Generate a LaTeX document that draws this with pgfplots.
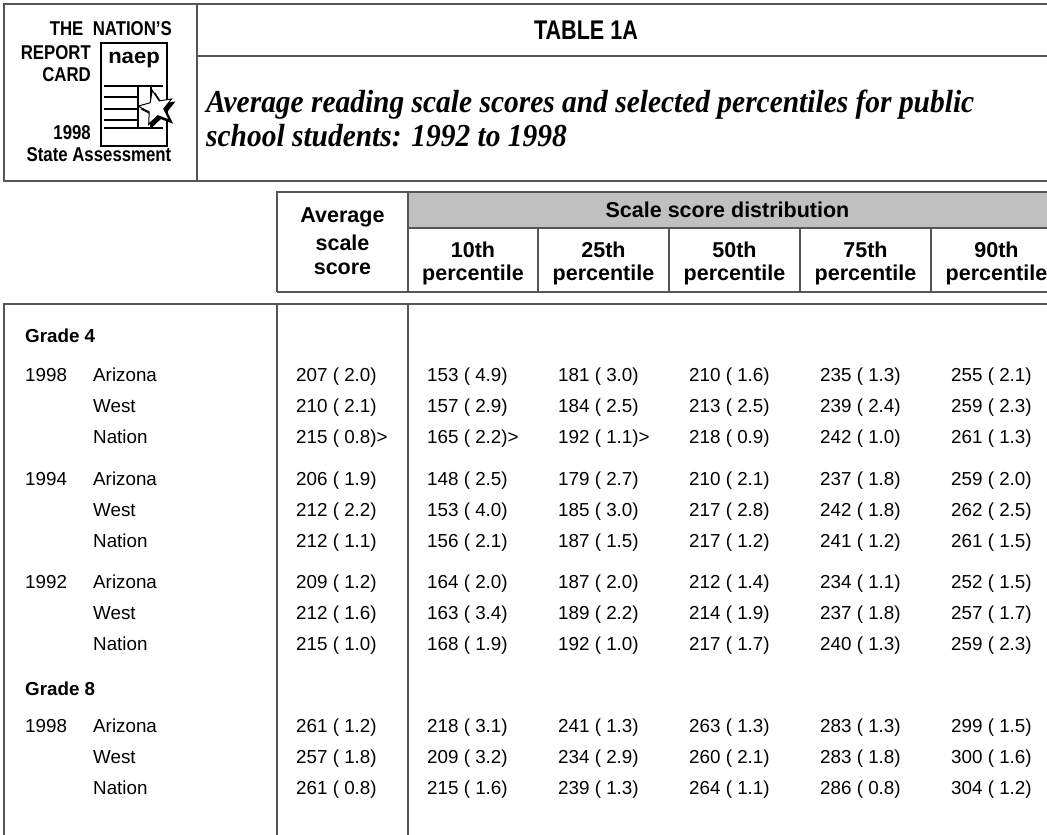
\documentclass[border=0pt]{standalone}
\usepackage{fontspec}
\setmainfont{Liberation Sans}
\newfontfamily\titleserif{Liberation Serif}
\usepackage{pgfplots}
\usepackage{pgfplotstable}
\pgfplotsset{compat=1.18}
\usetikzlibrary{shapes.geometric}
\definecolor{rulec}{HTML}{555555}
\definecolor{band}{HTML}{C0C0C0}
\newcommand{\bodyfont}{\fontsize{18.8bp}{22bp}\selectfont}
\newcommand{\headfont}{\fontsize{21.5bp}{24bp}\selectfont\bfseries}
\newcommand{\logofont}[1]{\scalebox{0.84}[1]{\fontsize{20bp}{20bp}\selectfont\bfseries #1}}
\newcommand{\subtitle}[1]{\scalebox{0.92}[1]{\fontsize{32bp}{33bp}\selectfont\titleserif\bfseries\itshape #1}}

\pgfplotstableread[col sep=semicolon]{
y;state;avg;pa;pb;pc;pd;pe
376;Arizona;207 ( 2.0);153 ( 4.9);181 ( 3.0);210 ( 1.6);235 ( 1.3);255 ( 2.1)
407;West;210 ( 2.1);157 ( 2.9);184 ( 2.5);213 ( 2.5);239 ( 2.4);259 ( 2.3)
438;Nation;215 ( 0.8)>;165 ( 2.2)>;192 ( 1.1)>;218 ( 0.9);242 ( 1.0);261 ( 1.3)
480;Arizona;206 ( 1.9);148 ( 2.5);179 ( 2.7);210 ( 2.1);237 ( 1.8);259 ( 2.0)
511;West;212 ( 2.2);153 ( 4.0);185 ( 3.0);217 ( 2.8);242 ( 1.8);262 ( 2.5)
542;Nation;212 ( 1.1);156 ( 2.1);187 ( 1.5);217 ( 1.2);241 ( 1.2);261 ( 1.5)
583;Arizona;209 ( 1.2);164 ( 2.0);187 ( 2.0);212 ( 1.4);234 ( 1.1);252 ( 1.5)
614;West;212 ( 1.6);163 ( 3.4);189 ( 2.2);214 ( 1.9);237 ( 1.8);257 ( 1.7)
645;Nation;215 ( 1.0);168 ( 1.9);192 ( 1.0);217 ( 1.7);240 ( 1.3);259 ( 2.3)
727;Arizona;261 ( 1.2);218 ( 3.1);241 ( 1.3);263 ( 1.3);283 ( 1.3);299 ( 1.5)
758;West;257 ( 1.8);209 ( 3.2);234 ( 2.9);260 ( 2.1);283 ( 1.8);300 ( 1.6)
789;Nation;261 ( 0.8);215 ( 1.6);239 ( 1.3);264 ( 1.1);286 ( 0.8);304 ( 1.2)
}\bodytab

\pgfplotstableread[col sep=semicolon]{
y;lab
376;1998
480;1994
583;1992
727;1998
}\yeartab

\pgfplotstableread[col sep=semicolon]{
y;lab
337;Grade 4
690;Grade 8
}\gradetab

\pgfplotsset{
  cell/.style={only marks, mark=*, mark size=0pt, draw=none, fill=none,
    point meta=explicit symbolic,
    nodes near coords={\pgfplotspointmeta},
    nodes near coords align=horizontal,
    every node near coord/.append style={anchor=west, inner sep=0pt, text=black,
      font=\bodyfont, text height=0.74em, text depth=0.22em, yshift=-3bp}},
}

\begin{document}
\begin{tikzpicture}
\begin{axis}[
  width=1047bp, height=834bp, scale only axis,
  xmin=0, xmax=1047, ymin=0, ymax=834, y dir=reverse,
  axis lines=none, clip=true,
]
% ---------- header box ----------
\draw[rulec, line width=1.6bp] (axis cs:4,4) rectangle (axis cs:1070,181);
\draw[rulec, line width=1.6bp] (axis cs:197,4) -- (axis cs:197,181);
\draw[rulec, line width=1.6bp] (axis cs:197,56) -- (axis cs:1070,56);
\node[anchor=center] at (axis cs:586,30) {\scalebox{0.8}[1]{\fontsize{27bp}{27bp}\selectfont\bfseries TABLE 1A}};
\node[anchor=base west, inner sep=0pt] at (axis cs:206,112) {\subtitle{Average reading scale scores and selected percentiles for public}};
\node[anchor=base west, inner sep=0pt] at (axis cs:206,146) {\subtitle{school students: 1992 to 1998}};
% ---------- logo ----------
\node[anchor=east, inner sep=0pt] at (axis cs:172,29) {\logofont{THE\ \ NATION'S}};
\node[anchor=east, inner sep=0pt] at (axis cs:91,53) {\logofont{REPORT}};
\node[anchor=east, inner sep=0pt] at (axis cs:91,75) {\logofont{CARD}};
\node[anchor=east, inner sep=0pt] at (axis cs:91,133) {\logofont{1998}};
\node[anchor=center, inner sep=0pt] at (axis cs:99,155) {\logofont{State Assessment}};
\draw[black, line width=2.4bp] (axis cs:101,43) rectangle (axis cs:167,146);
\node[anchor=center, inner sep=0pt] at (axis cs:134,60) {\scalebox{1.05}[1]{\fontsize{21bp}{21bp}\selectfont\bfseries naep}};
\draw[black, line width=2.2bp] (axis cs:104,86) -- (axis cs:163,86);
\draw[black, line width=2.2bp] (axis cs:104,97) -- (axis cs:137,97);
\draw[black, line width=2.2bp] (axis cs:104,109) -- (axis cs:137,109);
\draw[black, line width=2.2bp] (axis cs:104,120) -- (axis cs:137,120);
\draw[black, line width=2.2bp] (axis cs:104,128) -- (axis cs:163,128);
\draw[black, line width=2.2bp] (axis cs:138,86) -- (axis cs:138,128);
\draw[black, line width=2.2bp] (axis cs:151,86) -- (axis cs:151,128);
\node[star, star points=5, star point ratio=2.3, minimum size=38bp, inner sep=0pt, fill=black, rotate=12] at (axis cs:159,111) {};
\node[star, star points=5, star point ratio=2.3, minimum size=36bp, inner sep=0pt, draw=black, fill=white, line width=1bp, rotate=12] at (axis cs:156,108) {};
% ---------- table header ----------
\fill[band] (axis cs:408,192) rectangle (axis cs:1070,228);
\draw[rulec, line width=1.6bp] (axis cs:277,292) -- (axis cs:277,192) -- (axis cs:1070,192);
\draw[rulec, line width=1.6bp] (axis cs:408,228) -- (axis cs:1070,228);
\draw[rulec, line width=1.6bp] (axis cs:408,192) -- (axis cs:408,292);
\draw[rulec, line width=1.6bp] (axis cs:538,228) -- (axis cs:538,292);
\draw[rulec, line width=1.6bp] (axis cs:669,228) -- (axis cs:669,292);
\draw[rulec, line width=1.6bp] (axis cs:800,228) -- (axis cs:800,292);
\draw[rulec, line width=1.6bp] (axis cs:931,228) -- (axis cs:931,292);
\draw[rulec, line width=1.6bp] (axis cs:277,292) -- (axis cs:1070,292);
\node at (axis cs:342.5,217) {\headfont Average};
\node at (axis cs:342.5,243) {\headfont scale};
\node at (axis cs:342.5,269) {\headfont score};
\node at (axis cs:727.5,210) {\headfont Scale score distribution};
\node at (axis cs:473,250) {\headfont 10th};
\node at (axis cs:473,275) {\headfont percentile};
\node at (axis cs:603.5,250) {\headfont 25th};
\node at (axis cs:603.5,275) {\headfont percentile};
\node at (axis cs:734.5,250) {\headfont 50th};
\node at (axis cs:734.5,275) {\headfont percentile};
\node at (axis cs:865.5,250) {\headfont 75th};
\node at (axis cs:865.5,275) {\headfont percentile};
\node at (axis cs:996.5,250) {\headfont 90th};
\node at (axis cs:996.5,275) {\headfont percentile};
% ---------- body rules ----------
\draw[rulec, line width=1.6bp] (axis cs:4,900) -- (axis cs:4,304) -- (axis cs:1070,304);
\draw[rulec, line width=1.6bp] (axis cs:277,304) -- (axis cs:277,900);
\draw[rulec, line width=1.6bp] (axis cs:408,304) -- (axis cs:408,900);
% ---------- body cells ----------
\addplot[cell, every node near coord/.append style={font=\bodyfont\bfseries}] table[x expr=25, y=y, meta=lab] {\gradetab};
\addplot[cell] table[x expr=25, y=y, meta=lab] {\yeartab};
\addplot[cell] table[x expr=93, y=y, meta=state] {\bodytab};
\addplot[cell] table[x expr=296, y=y, meta=avg] {\bodytab};
\addplot[cell] table[x expr=427, y=y, meta=pa] {\bodytab};
\addplot[cell] table[x expr=558, y=y, meta=pb] {\bodytab};
\addplot[cell] table[x expr=689, y=y, meta=pc] {\bodytab};
\addplot[cell] table[x expr=820, y=y, meta=pd] {\bodytab};
\addplot[cell] table[x expr=951, y=y, meta=pe] {\bodytab};
\end{axis}
\pgfresetboundingbox
\path[use as bounding box] (current axis.south west) rectangle (current axis.north east);
\end{tikzpicture}
\end{document}
